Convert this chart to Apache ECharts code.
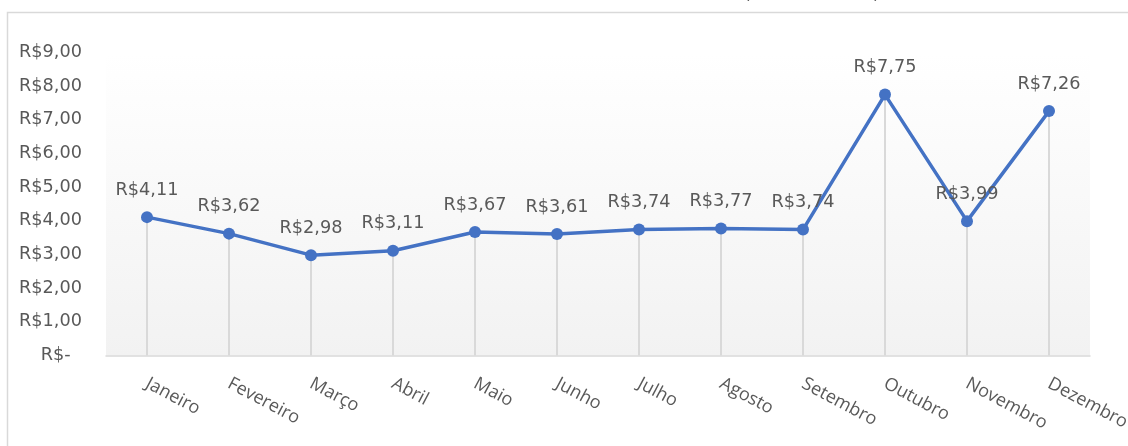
<!DOCTYPE html>
<html>
<head>
<meta charset="utf-8">
<script src="https://cdn.jsdelivr.net/npm/echarts@6/dist/echarts.min.js"></script>
<style>html,body{margin:0;padding:0;background:#fff;}#c{width:1128px;height:446px;}</style>
</head>
<body>
<div id="c"></div>
<script>
const categories = ['Janeiro','Fevereiro','Março','Abril','Maio','Junho','Julho','Agosto','Setembro','Outubro','Novembro','Dezembro'];
const values = [4.11, 3.62, 2.98, 3.11, 3.67, 3.61, 3.74, 3.77, 3.74, 7.75, 3.99, 7.26];
const yMin = 0, yMax = 9, yStep = 1;

function brl(v){
  if (v === 0) return 'R$-  ';
  return 'R$' + v.toFixed(2).replace('.', ',');
}

const chart = echarts.init(document.getElementById('c'), null, {renderer:'canvas'});
chart.setOption({
  backgroundColor: '#ffffff',
  animation: false,
  graphic: [
    {type:'rect', shape:{x:7.5, y:12.5, width:1200, height:500}, style:{fill:'none', stroke:'#d9d9d9', lineWidth:1.5}, z:-10},
    {type:'text', x:744, y:-14, style:{text:'(', font:'17px "DejaVu Sans"', fill:'#595959'}},
    {type:'text', x:873, y:-14, style:{text:')', font:'17px "DejaVu Sans"', fill:'#595959'}}
  ],
  grid: {
    left: 106, right: 38, top: 52.5, bottom: 90.5,
    containLabel: false, outerBoundsMode: 'none',
    show: true, borderWidth: 0,
    backgroundColor: {type:'linear', x:0, y:0, x2:0, y2:1, colorStops:[{offset:0, color:'#ffffff'},{offset:1, color:'#f2f2f2'}]}
  },
  xAxis: {
    type: 'category',
    data: categories,
    boundaryGap: true,
    axisLine: {show:true, lineStyle:{color:'#d9d9d9', width:1.5}},
    axisTick: {show:false},
    splitLine: {show:false},
    axisLabel: {rotate:-28, margin:27, color:'#595959', fontFamily:'Open Sans', fontSize:18, interval:0}
  },
  yAxis: {
    type: 'value',
    min: yMin, max: yMax, interval: yStep,
    axisLine: {show:false},
    axisTick: {show:false},
    splitLine: {show:false},
    axisLabel: {margin:24, color:'#595959', fontFamily:'DejaVu Sans', fontSize:17.7, formatter: brl}
  },
  series: [
    {
      type: 'bar',
      data: values,
      barWidth: 2,
      silent: true,
      itemStyle: {color:'#d9d9d9'},
      z: 1
    },
    {
      type: 'line',
      data: values,
      symbol: 'circle',
      symbolSize: 12,
      lineStyle: {color:'#4472C4', width:3.5},
      itemStyle: {color:'#4472C4'},
      label: {
        show: true, position: 'top', distance: 12,
        color:'#595959', fontFamily:'DejaVu Sans', fontSize:17.7,
        formatter: p => brl(p.value)
      },
      z: 3
    }
  ]
});
</script>
</body>
</html>
